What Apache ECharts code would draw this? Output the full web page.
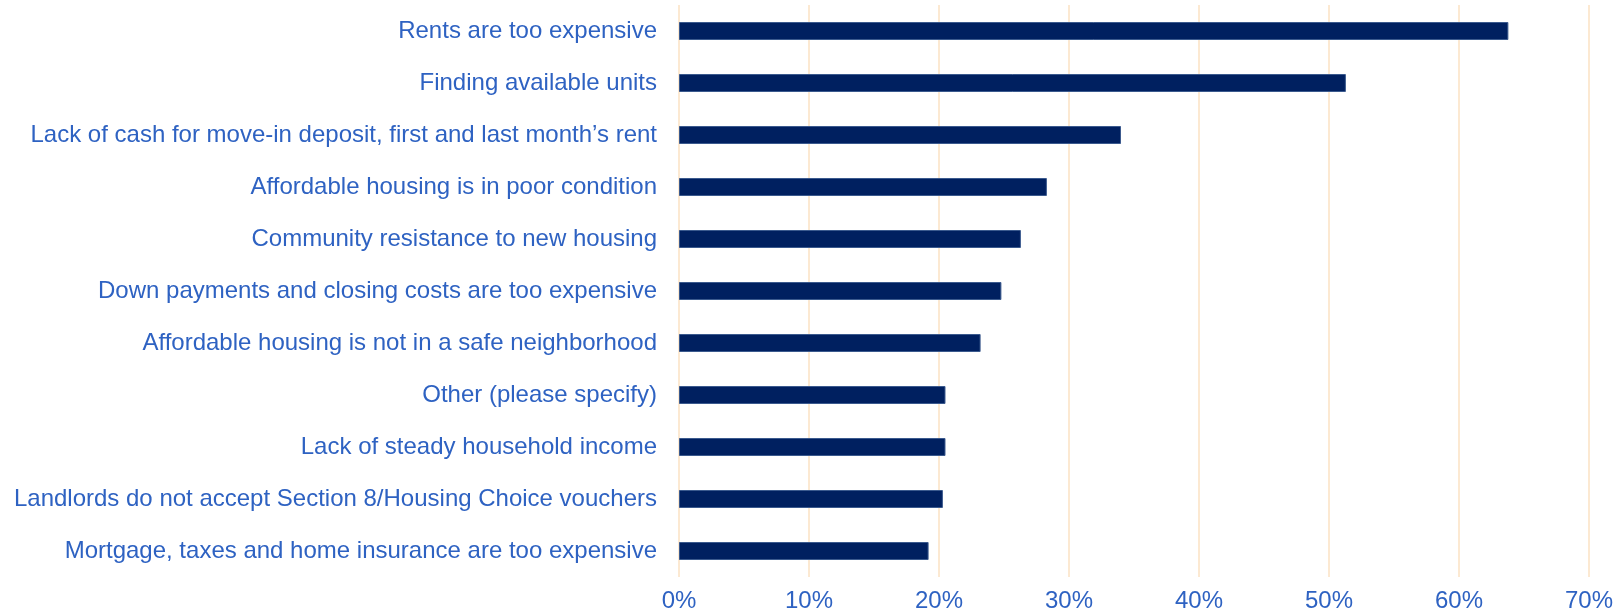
<!DOCTYPE html>
<html>
<head>
<meta charset="utf-8">
<script src="https://cdn.jsdelivr.net/npm/echarts@6/dist/echarts.min.js"></script>
<style>
  html, body { margin: 0; padding: 0; background: #fff; }
  #chart { width: 1616px; height: 616px; }
</style>
</head>
<body>
<div id="chart"></div>
<script>
  // categories, top to bottom
  var categories = [
    'Rents are too expensive',
    'Finding available units',
    'Lack of cash for move-in deposit, first and last month\u2019s rent',
    'Affordable housing is in poor condition',
    'Community resistance to new housing',
    'Down payments and closing costs are too expensive',
    'Affordable housing is not in a safe neighborhood',
    'Other (please specify)',
    'Lack of steady household income',
    'Landlords do not accept Section 8/Housing Choice vouchers',
    'Mortgage, taxes and home insurance are too expensive'
  ];
  // share of responses, %
  var values = [63.8, 51.3, 34.0, 28.3, 26.3, 24.8, 23.2, 20.5, 20.5, 20.3, 19.2];

  var textColor = '#2E62C2';
  var chart = echarts.init(document.getElementById('chart'));
  chart.setOption({
    animation: false,
    textStyle: { fontFamily: 'Liberation Sans, Arial, sans-serif' },
    grid: { left: 679, right: 25, top: 5, bottom: 39, containLabel: false },
    xAxis: {
      type: 'value',
      min: 0, max: 70, interval: 10,
      axisLine: { show: false },
      axisTick: { show: false },
      axisLabel: { color: textColor, fontSize: 24, margin: 12, formatter: '{value}%' },
      splitLine: { show: true, lineStyle: { color: '#FCE9D2', width: 2 } }
    },
    yAxis: {
      type: 'category',
      inverse: true,
      data: categories,
      axisLine: { show: false },
      axisTick: { show: false },
      axisLabel: { color: textColor, fontSize: 24, margin: 22 }
    },
    series: [{
      type: 'bar',
      data: values,
      barWidth: 18,
      itemStyle: { color: '#002060', borderColor: '#3B5A8E', borderWidth: 1 }
    }]
  });
</script>
</body>
</html>
